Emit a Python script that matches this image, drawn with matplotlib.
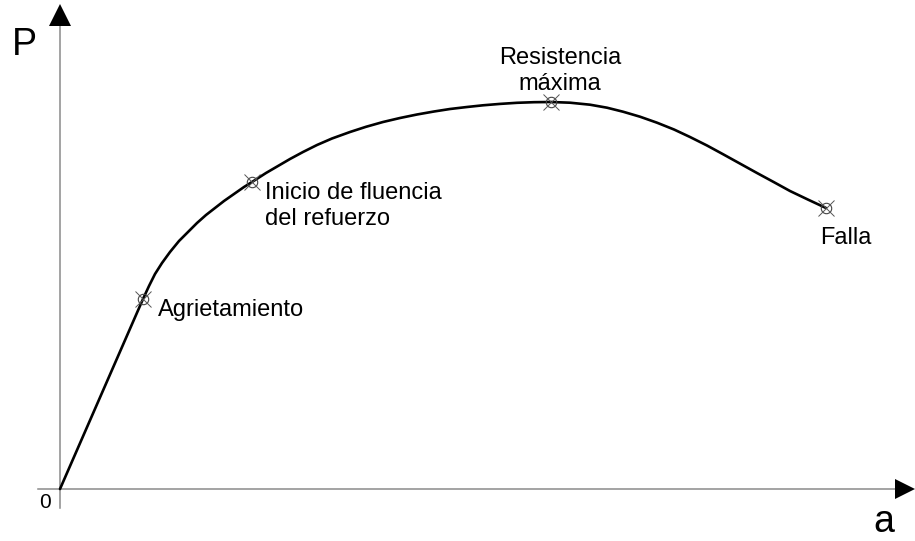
import matplotlib.pyplot as plt

plt.rcParams['font.family'] = ['Liberation Sans', 'DejaVu Sans']

# curva P-a (unidades arbitrarias, origen en 0,0)
a = [0, 83, 89, 95, 102, 110, 119, 128, 137, 146, 155, 164, 174, 184,
     192, 206, 218, 230, 243, 257, 272, 290, 306, 323, 340, 357, 374,
     390, 407, 423, 440, 457, 474, 491, 510, 530, 547, 563, 580, 597,
     614, 630, 647, 663, 680, 697, 714, 730, 748, 766]
P = [0, 190, 203, 215, 226, 237, 248, 257, 266, 274, 281, 288, 295, 302,
     307, 316, 323, 330, 337, 344, 350.5, 357, 362.2, 367, 371, 374.5,
     377.5, 380, 382, 383.7, 385.1, 386.2, 386.8, 387, 386.3, 384.3,
     381.3, 377.3, 372.3, 366.3, 359.5, 352, 343.5, 334.8, 325.4, 316,
     306.8, 298, 289.4, 281]

# puntos notables
pts_a = [83, 192, 491, 766]
pts_P = [190, 307, 387, 281]
etiquetas = ['Agrietamiento', 'Inicio de fluencia\ndel refuerzo',
             'Resistencia\nmáxima', 'Falla']

fig = plt.figure(figsize=(9.15, 5.41), dpi=100)
ax = fig.add_axes([0, 0, 1, 1])
ax.set_xlim(-60, 855)
ax.set_ylim(-52, 489)
ax.axis('off')

# ejes
gris = '#8a8a8a'
ax.plot([-22, 840], [0, 0], color=gris, lw=1.1)
ax.plot([0, 0], [-19, 463], color=gris, lw=1.1)
ax.plot([844.5], [0], marker='>', color='black', markersize=15, mew=0)
ax.plot([0], [474], marker='^', color='black', markersize=16, mew=0)

# curva
ax.plot(a, P, color='black', lw=1.9, solid_capstyle='round',
        solid_joinstyle='round')

# marcadores
ax.plot(pts_a, pts_P, 'o', ms=7.5, mfc='none', mec='#444444', mew=0.8)
ax.plot(pts_a, pts_P, 'x', ms=12, mec='#555555', mew=0.7)

fs = 17
ax.text(98, 179, etiquetas[0], fontsize=fs, va='center', ha='left')
ax.text(205, 283, etiquetas[1], fontsize=fs, va='center', ha='left',
        linespacing=1.2)
ax.text(500, 418, etiquetas[2], fontsize=fs, va='center', ha='center',
        linespacing=1.2)
ax.text(760, 251, etiquetas[3], fontsize=fs, va='center', ha='left')

ax.text(-36, 444, 'P', fontsize=27, va='center', ha='center')
ax.text(824, -33, 'a', fontsize=27, va='center', ha='center')
ax.text(-15, -13, '0', fontsize=15, va='center', ha='center')

fig.savefig('out.png', dpi=100)
